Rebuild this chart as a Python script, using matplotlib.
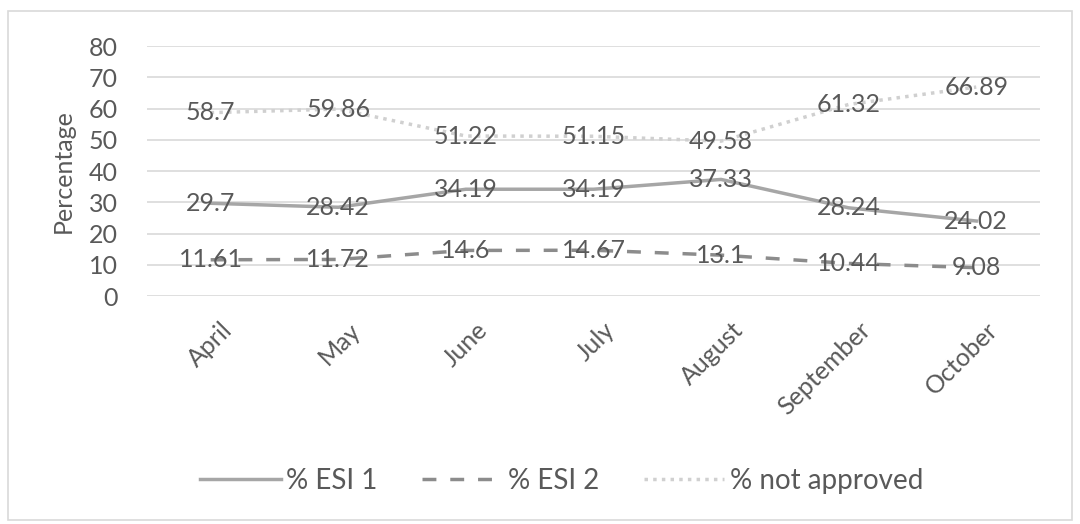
import matplotlib.pyplot as plt
from matplotlib.patches import Rectangle
from matplotlib.transforms import ScaledTranslation

plt.rcParams['font.family'] = ['Lato', 'DejaVu Sans']

months = ['April', 'May', 'June', 'July', 'August', 'September', 'October']
esi1 = [29.7, 28.42, 34.19, 34.19, 37.33, 28.24, 24.02]
esi2 = [11.61, 11.72, 14.6, 14.67, 13.1, 10.44, 9.08]
not_approved = [58.7, 59.86, 51.22, 51.15, 49.58, 61.32, 66.89]

text_col = '#595959'

fig = plt.figure(figsize=(10.8, 5.24), dpi=100)
ax = fig.add_axes([0.136, 0.435, 0.827, 0.477])

# chart border like the Excel chart area
fig.patches.append(Rectangle((0.007, 0.008), 0.986, 0.971, transform=fig.transFigure,
                             fill=False, edgecolor='#d9d9d9', linewidth=1.2))

x = range(len(months))
ax.plot(x, esi1, color='#a6a6a6', linewidth=2.5, linestyle='-', label='% ESI 1')
ax.plot(x, esi2, color='#8c8c8c', linewidth=2.5, linestyle=(0, (4, 4)), label='% ESI 2')
ax.plot(x, not_approved, color='#d0d0d0', linewidth=2.5, linestyle=(0, (1, 1.5)),
        label='% not approved')

for series in (esi1, esi2, not_approved):
    for i, v in enumerate(series):
        ax.text(i, v, f'{v:g}', ha='center', va='center', fontsize=18, color=text_col)

ax.set_xlim(-0.5, len(months) - 0.5)
ax.set_ylim(0, 80)
ax.set_yticks(range(0, 81, 10))
ax.grid(axis='y', color='#d9d9d9', linewidth=1.2)
ax.set_axisbelow(True)
for s in ax.spines.values():
    s.set_visible(False)
ax.tick_params(axis='both', length=0, colors=text_col)
ax.tick_params(axis='y', labelsize=18, pad=21)
ax.set_xticks(list(x))
ax.set_xticklabels(months, rotation=45, ha='right', rotation_mode='anchor',
                   fontsize=18, color=text_col)
ax.tick_params(axis='x', pad=16)
shift = ScaledTranslation(10 / 100, 0, fig.dpi_scale_trans)
for lbl in ax.get_xticklabels():
    lbl.set_transform(lbl.get_transform() + shift)
ax.set_ylabel('Percentage', fontsize=18, color=text_col, labelpad=10)

fig.legend(loc='center', bbox_to_anchor=(0.52, 0.083), ncol=3, frameon=False,
           fontsize=20, labelcolor=text_col, handlelength=2.9, handletextpad=0.2,
           columnspacing=1.6)

plt.savefig('out.png', dpi=100)
plt.close()
